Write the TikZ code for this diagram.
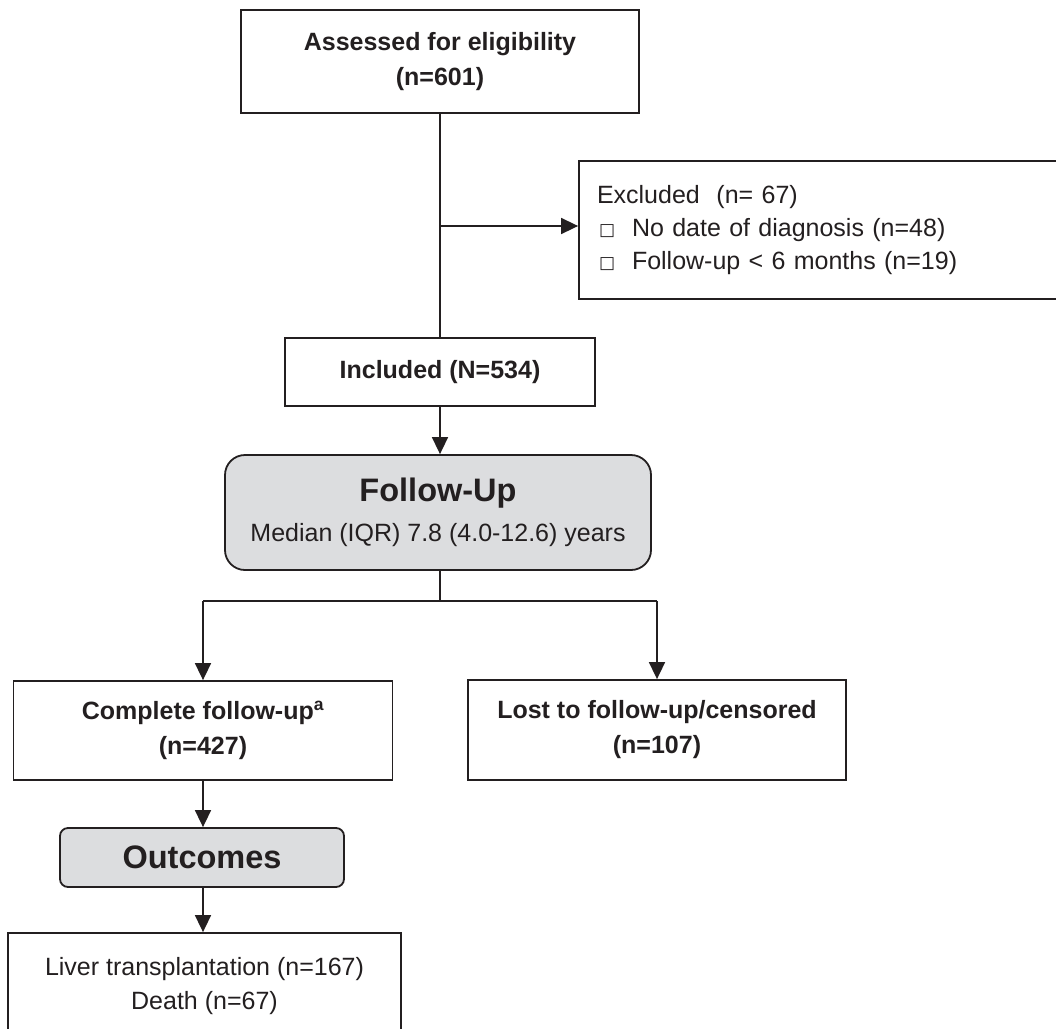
\documentclass[tikz,border=0pt]{standalone}
\usepackage{fontspec}
\setmainfont{Liberation Sans}
\newfontfamily\symfont{DejaVu Sans}
\usetikzlibrary{arrows.meta}
\definecolor{ink}{RGB}{35,31,32}
\definecolor{boxgray}{RGB}{220,221,223}
\tikzset{
  plainbox/.style={draw=ink, line width=1.8pt, rectangle, align=center, text=ink, inner sep=0pt,
                   font=\fontsize{25}{35}\selectfont\bfseries},
  greybox/.style={plainbox, fill=boxgray},
  conn/.style={draw=ink, line width=1.6pt},
  arr/.style={conn, -{Triangle[length=17pt,width=16pt]}},
}
\newcommand{\sqbul}{\hspace*{2pt}\makebox[33pt][l]{\raisebox{0.5pt}{\symfont\fontsize{17}{17}\selectfont □}}}
\begin{document}
\begin{tikzpicture}[x=1pt,y=-1pt]
\useasboundingbox (0,0) rectangle (1056,1028);

\node[plainbox, minimum width=398pt, minimum height=103pt] (assess) at (440,61.5)
  {Assessed for eligibility\\(n=601)};

\node[plainbox, minimum width=483pt, minimum height=138pt, text width=447pt, align=left,
      inner xsep=18pt, font=\fontsize{25}{33}\selectfont] (excl) at (820.5,230)
  {Excluded\ \ (n= 67)\\\sqbul No date of diagnosis (n=48)\\\sqbul Follow-up < 6 months (n=19)};

\node[plainbox, minimum width=310pt, minimum height=68pt] (incl) at (440,372)
  {Included (N=534)};

\node[greybox, rounded corners=20pt, minimum width=426pt, minimum height=115pt,
      font=\fontsize{25}{40}\selectfont] (fu) at (438,512.5)
  {{\fontsize{32.5}{36}\selectfont\bfseries Follow-Up}\\Median (IQR) 7.8 (4.0-12.6) years};

\node[plainbox, minimum width=379pt, minimum height=99pt] (comp) at (203,730.5)
  {Complete follow-up\textsuperscript{a}\\(n=427)};

\node[plainbox, minimum width=378pt, minimum height=100pt] (lost) at (657,730)
  {Lost to follow-up/censored\\(n=107)};

\node[greybox, rounded corners=8pt, minimum width=284pt, minimum height=59pt,
      font=\fontsize{32.5}{36}\selectfont\bfseries] (outc) at (202,857.5)
  {Outcomes};

\node[plainbox, minimum width=393pt, minimum height=107pt,
      font=\fontsize{25}{34}\selectfont] (res) at (204.5,986.5)
  {Liver transplantation (n=167)\\Death (n=67)};

\coordinate (j1) at (440,226);
\coordinate (split) at (440,601);
\coordinate (thkA) at (338,601);
\coordinate (thkB) at (468,601);

\draw[conn] (assess.south) -- (incl.north);
\draw[arr] (j1) -- (j1 -| excl.west);
\draw[arr] (incl.south) -- (incl.south |- fu.north);
\draw[conn] (split |- fu.south) -- (split);
\draw[conn] (comp.north |- split) -- (lost.north |- split);
\draw[conn, line width=2.6pt] (thkA) -- (thkB);
\draw[arr] (comp.north |- split) -- (comp.north);
\draw[arr] (lost.north |- split) -- (lost.north);
\draw[arr] (comp.south) -- (comp.south |- outc.north);
\draw[arr] (comp.south |- outc.south) -- (comp.south |- res.north);
\end{tikzpicture}
\end{document}
